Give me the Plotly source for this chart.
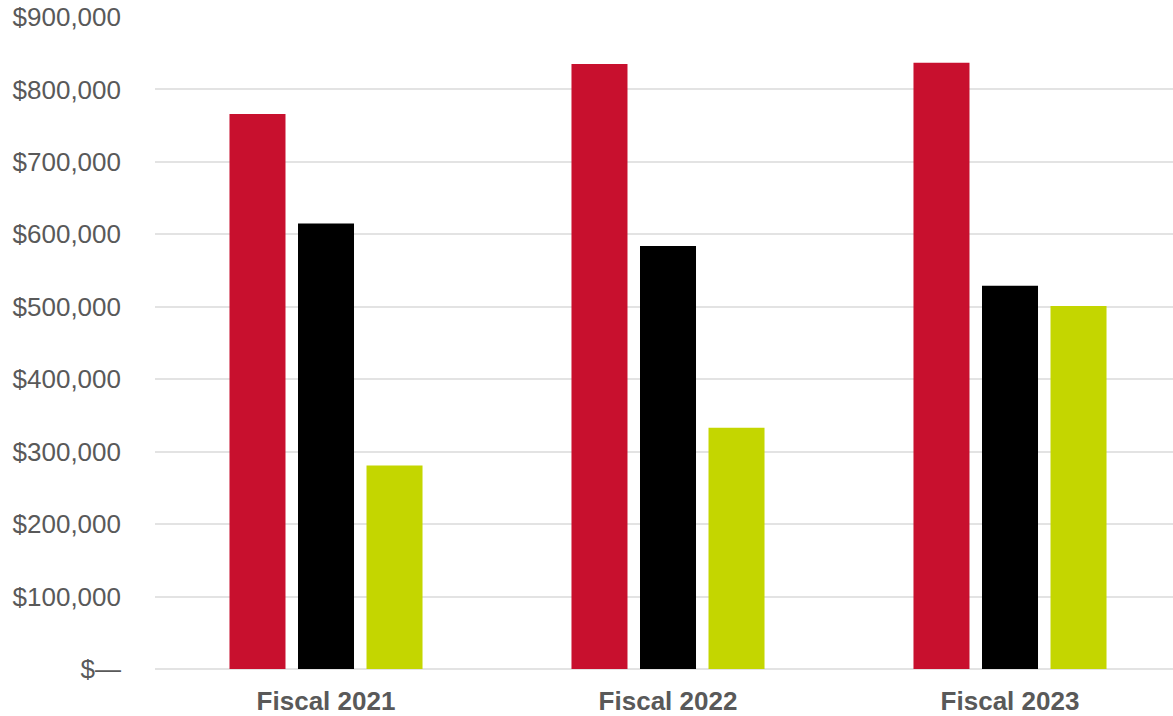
import plotly.graph_objects as go

categories = ["Fiscal 2021", "Fiscal 2022", "Fiscal 2023"]
series_names = ["Series A", "Series B", "Series C"]
red_values = [766000, 835000, 837000]
black_values = [615000, 584000, 529000]
green_values = [281000, 333000, 501000]
tick_values = [0, 100000, 200000, 300000, 400000, 500000, 600000, 700000, 800000, 900000]
tick_labels = ["$\u2014", "$100,000", "$200,000", "$300,000", "$400,000",
               "$500,000", "$600,000", "$700,000", "$800,000", "$900,000"]
colors = ["#C8102E", "#000000", "#C4D600"]

fig = go.Figure()
for name, vals, col in zip(series_names, [red_values, black_values, green_values], colors):
    fig.add_trace(go.Bar(x=categories, y=vals, name=name,
                         marker=dict(color=col, line=dict(width=0))))

fig.update_layout(
    width=1173, height=716,
    margin=dict(l=155, r=0, t=17, b=45),
    paper_bgcolor="white", plot_bgcolor="white",
    barmode="group", bargap=0.399, bargroupgap=0.1825,
    showlegend=False,
    font=dict(family="Liberation Sans, Arial, sans-serif", color="#595959", size=26),
)
fig.update_xaxes(
    range=[-0.5, 2.4766],
    showgrid=False, showline=False, zeroline=False,
    ticks="", ticklabelstandoff=14,
    tickfont=dict(size=26, color="#595959", family="Liberation Sans, Arial, sans-serif", weight="bold"),
)
fig.update_yaxes(
    range=[0, 900000],
    tickvals=tick_values, ticktext=tick_labels,
    showgrid=True, gridcolor="#e3e3e3", gridwidth=2,
    zeroline=True, zerolinecolor="#e3e3e3", zerolinewidth=2,
    showline=False, ticks="", ticklabelstandoff=33,
    tickfont=dict(size=26, color="#595959"),
)

fig.write_html("out.html")
